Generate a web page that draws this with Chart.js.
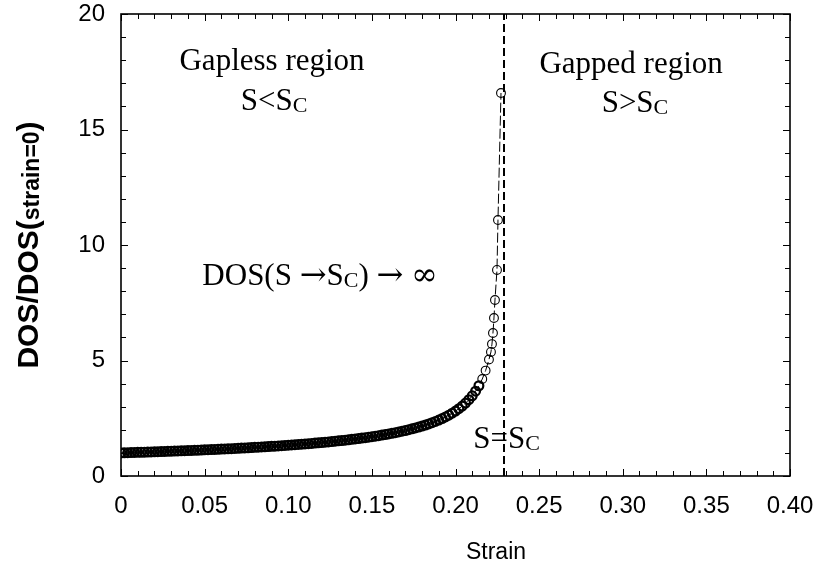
<!DOCTYPE html>
<html lang="en">
<head>
    <meta charset="UTF-8">
    <title>DOS vs Strain</title>
    <script src="https://cdn.jsdelivr.net/npm/chart.js"></script>
    <style>
        body { margin: 0; background: #fff; }
        .chart-box { width: 819px; height: 569px; }
    </style>
</head>
<body>
    <div class="chart-box">
        <canvas id="dosChart" width="819" height="569"></canvas>
    </div>

    <script>
        // Strain values of the computed points
        const strain = [
            0.000, 0.002, 0.004, 0.006, 0.008, 0.010, 0.012, 0.014, 0.016, 0.018,
            0.020, 0.022, 0.024, 0.026, 0.028, 0.030, 0.032, 0.034, 0.036, 0.038,
            0.040, 0.042, 0.044, 0.046, 0.048, 0.050, 0.052, 0.054, 0.056, 0.058,
            0.060, 0.062, 0.064, 0.066, 0.068, 0.070, 0.072, 0.074, 0.076, 0.078,
            0.080, 0.082, 0.084, 0.086, 0.088, 0.090, 0.092, 0.094, 0.096, 0.098,
            0.100, 0.102, 0.104, 0.106, 0.108, 0.110, 0.112, 0.114, 0.116, 0.118,
            0.120, 0.122, 0.124, 0.126, 0.128, 0.130, 0.132, 0.134, 0.136, 0.138,
            0.140, 0.142, 0.144, 0.146, 0.148, 0.150, 0.152, 0.154, 0.156, 0.158,
            0.160, 0.162, 0.164, 0.166, 0.168, 0.170, 0.172, 0.174, 0.176, 0.178,
            0.180, 0.182, 0.184, 0.186, 0.188, 0.190, 0.192, 0.194, 0.196, 0.198,
            0.200, 0.202, 0.204, 0.206, 0.208, 0.210, 0.212, 0.214, 0.216, 0.218,
            0.220, 0.2212, 0.2218, 0.2224, 0.2230, 0.2236, 0.2248, 0.2254, 0.2272
        ];

        // DOS normalised to its value at zero strain
        const dosRatio = [
            1.000, 1.004, 1.009, 1.013, 1.018, 1.023, 1.027, 1.032, 1.037, 1.042,
            1.047, 1.052, 1.057, 1.062, 1.067, 1.073, 1.078, 1.084, 1.089, 1.095,
            1.101, 1.107, 1.113, 1.119, 1.125, 1.131, 1.137, 1.144, 1.151, 1.157,
            1.164, 1.171, 1.178, 1.185, 1.193, 1.200, 1.208, 1.216, 1.223, 1.232,
            1.240, 1.248, 1.257, 1.266, 1.274, 1.284, 1.293, 1.302, 1.312, 1.322,
            1.332, 1.343, 1.354, 1.365, 1.376, 1.387, 1.399, 1.411, 1.424, 1.436,
            1.449, 1.463, 1.477, 1.491, 1.506, 1.521, 1.537, 1.553, 1.569, 1.586,
            1.604, 1.622, 1.641, 1.661, 1.681, 1.703, 1.725, 1.747, 1.771, 1.796,
            1.822, 1.849, 1.877, 1.907, 1.938, 1.970, 2.004, 2.041, 2.079, 2.119,
            2.162, 2.207, 2.256, 2.308, 2.363, 2.423, 2.488, 2.558, 2.634, 2.718,
            2.810, 2.912, 3.027, 3.155, 3.302, 3.472, 3.670, 3.907, 4.197, 4.563,
            5.044, 5.37, 5.71, 6.19, 6.84, 7.62, 8.92, 11.08, 16.58
        ];

        // critical strain (dashed line)
        const criticalStrain = 0.229;

        const xTicks = [0, 0.05, 0.10, 0.15, 0.20, 0.25, 0.30, 0.35, 0.40];
        const xTickLabels = ['0', '0.05', '0.10', '0.15', '0.20', '0.25', '0.30', '0.35', '0.40'];
        const yTicks = [0, 5, 10, 15, 20];

        // text annotations: [text, kind] pieces (n = normal, s = subscript, y = symbol)
        const notes = [
            { x: 0.0903, y: 17.58, parts: [['Gapless region', 'n']] },
            { x: 0.0915, y: 15.84, parts: [['S<S', 'n'], ['C', 's']] },
            { x: 0.3050, y: 17.45, parts: [['Gapped region', 'n']] },
            { x: 0.3073, y: 15.76, parts: [['S>S', 'n'], ['C', 's']] },
            { x: 0.1190, y: 8.27, parts: [['DOS(S ', 'n'], ['\u2192', 'y'], ['S', 'n'], ['C', 's'], [') ', 'n'], ['\u2192', 'y'], [' ', 'n'], ['\u221E', 'y']] },
            { x: 0.2305, y: 1.21, parts: [['S=S', 'n'], ['C', 's']] }
        ];

        const points = strain.map((s, i) => ({ x: s, y: dosRatio[i] }));

        const sansFont = '"Liberation Sans", Arial, sans-serif';
        const noteFonts = {
            n: '31px "Liberation Serif", "Times New Roman", serif',
            s: '22px "Liberation Serif", "Times New Roman", serif',
            y: '32px "DejaVu Serif", serif'
        };

        // frame, inward ticks, notes and axis titles
        const decorPlugin = {
            id: 'decor',
            afterDatasetsDraw(chart) {
                const c = chart.ctx;
                const a = chart.chartArea;
                const xs = chart.scales.x, ys = chart.scales.y;
                c.save();
                c.strokeStyle = '#000';
                c.lineWidth = 1;
                // minor + major ticks on all four sides
                for (let i = 0; i <= 40; i++) {
                    const px = Math.round(xs.getPixelForValue(i / 100)) + 0.5;
                    const len = (i % 5 === 0) ? 7 : 5;
                    c.beginPath();
                    c.moveTo(px, a.bottom); c.lineTo(px, a.bottom - len);
                    c.moveTo(px, a.top); c.lineTo(px, a.top + len);
                    c.stroke();
                }
                for (let j = 0; j <= 20; j++) {
                    const py = Math.round(ys.getPixelForValue(j)) + 0.5;
                    const len = (j % 5 === 0) ? 7 : 5;
                    c.beginPath();
                    c.moveTo(a.left, py); c.lineTo(a.left + len, py);
                    c.moveTo(a.right, py); c.lineTo(a.right - len, py);
                    c.stroke();
                }
                c.lineWidth = 1.6;
                c.strokeRect(a.left, a.top, a.right - a.left, a.bottom - a.top);

                // annotations
                c.fillStyle = '#000';
                c.textBaseline = 'alphabetic';
                c.textAlign = 'left';
                notes.forEach(n => {
                    let w = 0;
                    n.parts.forEach(p => { c.font = noteFonts[p[1]]; w += c.measureText(p[0]).width; });
                    let cx = xs.getPixelForValue(n.x) - w / 2;
                    const by = ys.getPixelForValue(n.y);
                    n.parts.forEach(p => {
                        c.font = noteFonts[p[1]];
                        c.fillText(p[0], cx, by + (p[1] === 's' ? 2 : 0));
                        cx += c.measureText(p[0]).width;
                    });
                });

                // x axis title
                c.font = '23px ' + sansFont;
                c.textAlign = 'center';
                c.textBaseline = 'middle';
                c.fillText('Strain', 496, 553);

                // y axis title with smaller subscript part
                c.textAlign = 'left';
                c.textBaseline = 'alphabetic';
                const tParts = [['DOS/DOS(', false], ['strain=0', true], [')', false]];
                const tMain = 'bold 30px ' + sansFont;
                const tSub = 'bold 23px ' + sansFont;
                let tw = 0;
                tParts.forEach(p => { c.font = p[1] ? tSub : tMain; tw += c.measureText(p[0]).width; });
                c.translate(38, 245);
                c.rotate(-Math.PI / 2);
                let tx = -tw / 2;
                tParts.forEach(p => {
                    c.font = p[1] ? tSub : tMain;
                    c.fillText(p[0], tx, p[1] ? 1 : 0);
                    tx += c.measureText(p[0]).width;
                });
                c.restore();
            }
        };

        const ctx = document.getElementById('dosChart').getContext('2d');
        const myChart = new Chart(ctx, {
            type: 'scatter',
            data: {
                datasets: [
                    {
                        label: 'DOS ratio',
                        data: points,
                        showLine: true,
                        borderColor: '#000',
                        borderWidth: 1,
                        borderDash: [10, 3],
                        pointRadius: 4.4,
                        // dense part drawn heavier, sparse tail circles thin
                        pointBorderWidth: (c) => (c.raw && c.raw.y > 4) ? 1.1 : 2.2,
                        pointBackgroundColor: 'rgba(255,255,255,0)',
                        pointBorderColor: '#000',
                        order: 1
                    },
                    {
                        label: 'Sc',
                        data: [{ x: criticalStrain, y: 0 }, { x: criticalStrain, y: 20 }],
                        showLine: true,
                        borderColor: '#000',
                        borderWidth: 2,
                        borderDash: [8, 4],
                        pointRadius: 0,
                        order: 2
                    }
                ]
            },
            options: {
                responsive: false,
                animation: false,
                events: [],
                layout: { padding: { left: 0, right: 29, top: 14, bottom: 0 } },
                plugins: {
                    legend: { display: false },
                    tooltip: { enabled: false }
                },
                scales: {
                    x: {
                        type: 'linear',
                        min: 0,
                        max: 0.4,
                        afterBuildTicks: s => { s.ticks = xTicks.map(v => ({ value: v })); },
                        afterFit: s => { s.height = 93; s.paddingLeft = 0; s.paddingRight = 0; },
                        grid: { display: false },
                        border: { display: false },
                        ticks: {
                            color: '#000',
                            padding: 8,
                            maxRotation: 0,
                            font: { family: sansFont, size: 24 },
                            callback: (v) => xTickLabels[xTicks.indexOf(v)] ?? ''
                        },
                        title: { display: false }
                    },
                    y: {
                        type: 'linear',
                        min: 0,
                        max: 20,
                        afterBuildTicks: s => { s.ticks = yTicks.map(v => ({ value: v })); },
                        afterFit: s => { s.width = 121; s.paddingTop = 0; s.paddingBottom = 0; },
                        grid: { display: false },
                        border: { display: false },
                        ticks: {
                            color: '#000',
                            padding: 8,
                            font: { family: sansFont, size: 24 }
                        },
                        title: { display: false }
                    }
                }
            },
            plugins: [decorPlugin]
        });
    </script>
</body>
</html>
